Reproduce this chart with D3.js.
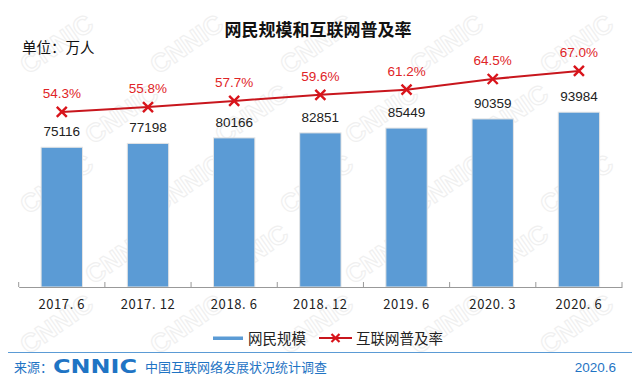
<!DOCTYPE html>
<html>
<head>
<meta charset="utf-8">
<script src="https://cdn.jsdelivr.net/npm/d3@7"></script>
<style>
  body { margin: 0; background: #fff; }
  svg { display: block; font-family: "Noto Sans CJK SC", "Liberation Sans", sans-serif; }
</style>
</head>
<body>
<svg id="chart" width="641" height="389"></svg>
<script>
// data
var periods = ["2017.6", "2017.12", "2018.6", "2018.12", "2019.6", "2020.3", "2020.6"];
var users = [75116, 77198, 80166, 82851, 85449, 90359, 93984];
var rate = [54.3, 55.8, 57.7, 59.6, 61.2, 64.5, 67.0];

var svg = d3.select("#chart");
var W = 641, H = 389;

// faint CNNIC watermark, only copies that fit fully inside
var wm = svg.append("g").attr("class", "watermark");
for (var r = 0; r < 6; r++) {
    for (var c = 0; c < 6; c++) {
        var wx = c * 130 + (r % 2) * 65 + 28, wy = r * 70 + 75;
        if (wx + 75 > W || wy > H - 5) continue;
        wm.append("text")
            .attr("transform", "translate(" + wx + "," + wy + ") rotate(-35)")
            .attr("font-family", "Liberation Sans, Arial, sans-serif")
            .attr("font-weight", "bold")
            .attr("font-size", 26)
            .attr("fill", "none")
            .attr("stroke", "#f0f0f0")
            .attr("stroke-width", 1.2)
            .text("CNNIC");
    }
}

var left = 18.7, right = 622, bottom = 287;

var x = d3.scaleBand()
    .domain(periods)
    .range([left, right])
    .paddingInner(0.52)
    .paddingOuter(0.26);

var xs = d3.scaleBand().domain(periods).range([left, right]);

var y = d3.scaleLinear().domain([0, 100000]).range([bottom, 101]);
var y2 = d3.scaleLinear().domain([0, 80]).range([bottom, 29]);

// title
svg.append("text")
    .attr("x", 318).attr("y", 36)
    .attr("text-anchor", "middle")
    .attr("font-size", 17).attr("font-weight", "bold")
    .attr("fill", "#111")
    .text("网民规模和互联网普及率");

svg.append("text")
    .attr("x", 22).attr("y", 53)
    .attr("font-size", 14.5)
    .attr("fill", "#111")
    .text("单位：万人");

// bars
svg.append("g").selectAll("rect")
    .data(users)
    .enter()
    .append("rect")
    .attr("x", function (d, i) { return x(periods[i]); })
    .attr("y", function (d) { return y(d); })
    .attr("width", x.bandwidth())
    .attr("height", function (d) { return bottom - y(d); })
    .attr("fill", "#5b9bd5")
    .attr("stroke", "#e4e4e4")
    .attr("stroke-width", 1);

svg.append("g").selectAll("text")
    .data(users)
    .enter()
    .append("text")
    .attr("x", function (d, i) { return x(periods[i]) + x.bandwidth() / 2; })
    .attr("y", function (d) { return y(d) - 11; })
    .attr("text-anchor", "middle")
    .attr("font-family", "Liberation Sans, Arial, sans-serif")
    .attr("font-size", 13.5)
    .attr("fill", "#222")
    .text(function (d) { return d; });

// axis
var axis = svg.append("g")
    .attr("transform", "translate(0," + bottom + ")")
    .call(d3.axisBottom(xs).tickSize(0).tickSizeOuter(0).tickFormat(""));
axis.select(".domain").attr("stroke", "#999");
axis.selectAll(".tick").remove();

var tickPos = d3.range(periods.length + 1).map(function (i) { return left + i * xs.step(); });
svg.append("g").selectAll("line")
    .data(tickPos)
    .enter()
    .append("line")
    .attr("x1", function (d) { return d; }).attr("x2", function (d) { return d; })
    .attr("y1", bottom).attr("y2", bottom - 5)
    .attr("stroke", "#999");

svg.append("g").selectAll("text")
    .data(periods)
    .enter()
    .append("text")
    .attr("x", function (d) { return xs(d) + xs.bandwidth() / 2; })
    .attr("y", 309)
    .attr("text-anchor", "middle")
    .attr("font-size", 13)
    .attr("letter-spacing", 0.6)
    .attr("fill", "#222")
    .text(function (d) { return d.replace(".", ". "); });

// line
var cx = function (i) { return xs(periods[i]) + xs.bandwidth() / 2; };
var line = d3.line()
    .x(function (d, i) { return cx(i); })
    .y(function (d) { return y2(d); });

svg.append("path")
    .datum(rate)
    .attr("d", line)
    .attr("fill", "none")
    .attr("stroke", "#c8161d")
    .attr("stroke-width", 2);

var s = 5;
var marks = svg.append("g").selectAll("g")
    .data(rate)
    .enter()
    .append("g")
    .attr("transform", function (d, i) { return "translate(" + cx(i) + "," + y2(d) + ")"; });
marks.append("path")
    .attr("d", "M" + (-s) + "," + (-s) + "L" + s + "," + s + "M" + s + "," + (-s) + "L" + (-s) + "," + s)
    .attr("stroke", "#d9141b")
    .attr("stroke-width", 2.4);

svg.append("g").selectAll("text")
    .data(rate)
    .enter()
    .append("text")
    .attr("x", function (d, i) { return cx(i); })
    .attr("y", function (d) { return y2(d) - 14; })
    .attr("text-anchor", "middle")
    .attr("font-family", "Liberation Sans, Arial, sans-serif")
    .attr("font-size", 13.5)
    .attr("fill", "#e02427")
    .text(function (d) { return d.toFixed(1) + "%"; });

// legend
var lg = svg.append("g");
lg.append("rect").attr("x", 213).attr("y", 336.5).attr("width", 30).attr("height", 3.5).attr("fill", "#5b9bd5");
lg.append("text").attr("x", 248).attr("y", 343.5).attr("font-size", 14.5).attr("fill", "#222").text("网民规模");
lg.append("line").attr("x1", 319).attr("x2", 352).attr("y1", 338).attr("y2", 338)
    .attr("stroke", "#c8161d").attr("stroke-width", 2);
lg.append("path")
    .attr("transform", "translate(335.5,338)")
    .attr("d", "M-4,-4L4,4M4,-4L-4,4")
    .attr("stroke", "#d9141b").attr("stroke-width", 2.2);
lg.append("text").attr("x", 356).attr("y", 343.5).attr("font-size", 14.5).attr("fill", "#222").text("互联网普及率");

// footer
svg.append("line").attr("x1", 8).attr("x2", 632).attr("y1", 352.5).attr("y2", 352.5)
    .attr("stroke", "#5b9bd5").attr("stroke-width", 1.2);
svg.append("text").attr("x", 14).attr("y", 372).attr("font-size", 13).attr("fill", "#1f74c4").text("来源：");
svg.append("text").attr("x", 53).attr("y", 373)
    .attr("font-family", "DejaVu Sans, sans-serif")
    .attr("font-weight", "bold").attr("font-size", 20)
    .attr("textLength", 84).attr("lengthAdjust", "spacingAndGlyphs")
    .attr("fill", "#1f74c4").text("CNNIC");
svg.append("text").attr("x", 145).attr("y", 372).attr("font-size", 13).attr("fill", "#1f74c4").text("中国互联网络发展状况统计调查");
svg.append("text").attr("x", 616).attr("y", 372).attr("text-anchor", "end")
    .attr("font-family", "Liberation Sans, Arial, sans-serif")
    .attr("font-size", 13.5).attr("fill", "#1f74c4").text("2020.6");
</script>
</body>
</html>
